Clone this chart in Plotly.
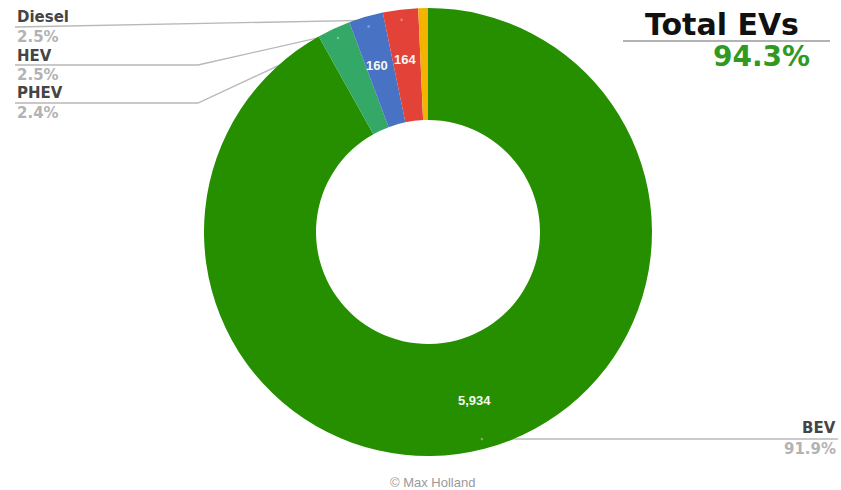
import math
import plotly.graph_objects as go

# Vehicle registrations by powertrain
categories = ["BEV", "PHEV", "HEV", "Diesel", "Petrol"]
values = [5934, 155, 160, 164, 45]
colors = ["#258f00", "#34a866", "#4872c4", "#e24237", "#f5b301"]

# Slices whose counts are printed inside the ring
count_labels = ["BEV", "HEV", "Diesel"]
# Callout labels on the left (top to bottom) and on the right
left_callouts = ["Diesel", "HEV", "PHEV"]
right_callouts = ["BEV"]
ev_categories = ["BEV", "PHEV"]

W, H = 841, 490
CX, CY, R = 428, 232, 224      # ring centre and outer radius in pixels
HOLE = 0.5

total = sum(values)
share = {c: v / total * 100 for c, v in zip(categories, values)}
ev_share = sum(share[c] for c in ev_categories)


def px(x):
    return x / W


def py(y):
    return 1 - y / H


# mid angle (clockwise from 12 o'clock) of each slice
mid_angle = {}
acc = 0.0
for c, v in zip(categories, values):
    mid_angle[c] = 2 * math.pi * (acc + v / 2) / total
    acc += v


def polar(c, r):
    a = mid_angle[c]
    return CX + r * math.sin(a), CY - r * math.cos(a)


fig = go.Figure(
    go.Pie(
        labels=categories,
        values=values,
        hole=HOLE,
        sort=False,
        direction="clockwise",
        rotation=0,
        marker=dict(colors=colors, line=dict(width=0)),
        textinfo="none",
        domain=dict(x=[px(CX - R), px(CX + R)], y=[py(CY + R), py(CY - R)]),
        showlegend=False,
    )
)

annotations = []
shapes = []

# counts inside the ring
for c in count_labels:
    x, y = polar(c, 0.82 * R)
    annotations.append(dict(
        x=px(x), y=py(y), xref="paper", yref="paper", showarrow=False,
        text=f"{values[categories.index(c)]:,}",
        font=dict(family="Liberation Sans", size=13, color="#f4f8f0", weight="bold"),
    ))

name_font = dict(family="DejaVu Sans", size=15, color="#454545", weight="bold")
pct_font = dict(family="DejaVu Sans", size=15, color="#b3b3b3", weight="bold")
line_style = dict(color="#b8b8b8", width=1.3)

# left callouts with leader lines
for i, c in enumerate(left_callouts):
    base = 17.5 + i * 38
    annotations.append(dict(x=px(15), y=py(base), xref="paper", yref="paper",
                            xanchor="left", yanchor="middle", showarrow=False,
                            text=c, font=name_font))
    annotations.append(dict(x=px(15), y=py(base + 19.5), xref="paper", yref="paper",
                            xanchor="left", yanchor="middle", showarrow=False,
                            text=f"{share[c]:.1f}%", font=pct_font))
    dx, dy = polar(c, 0.955 * R)
    ly = base + 9.5
    if i == 0:
        path = f"M {px(15)},{py(ly)} L {px(dx)},{py(dy)}"
    else:
        path = f"M {px(15)},{py(ly)} L {px(198)},{py(ly)} L {px(dx)},{py(dy)}"
    shapes.append(dict(type="path", path=path, xref="paper", yref="paper",
                       line=line_style, layer="below"))
    shapes.append(dict(type="circle", xref="paper", yref="paper",
                       x0=px(dx - 1.3), x1=px(dx + 1.3), y0=py(dy + 1.3), y1=py(dy - 1.3),
                       fillcolor="rgba(255,255,255,0.35)", line=dict(width=0)))

# right callout
for c in right_callouts:
    dx, dy = polar(c, 0.955 * R)
    annotations.append(dict(x=px(838), y=py(dy - 11), xref="paper", yref="paper",
                            xanchor="right", yanchor="middle", showarrow=False,
                            text=c, font=name_font))
    annotations.append(dict(x=px(838), y=py(dy + 10), xref="paper", yref="paper",
                            xanchor="right", yanchor="middle", showarrow=False,
                            text=f"{share[c]:.1f}%", font=pct_font))
    shapes.append(dict(type="line", xref="paper", yref="paper",
                       x0=px(dx), x1=px(838), y0=py(dy), y1=py(dy),
                       line=line_style, layer="below"))
    shapes.append(dict(type="circle", xref="paper", yref="paper",
                       x0=px(dx - 1.3), x1=px(dx + 1.3), y0=py(dy + 1.3), y1=py(dy - 1.3),
                       fillcolor="rgba(255,255,255,0.35)", line=dict(width=0)))

# headline: total EV share
annotations.append(dict(x=px(722), y=py(25), xref="paper", yref="paper",
                        xanchor="center", yanchor="middle", showarrow=False,
                        text="Total EVs",
                        font=dict(family="DejaVu Sans", size=30, color="#111111", weight="bold")))
shapes.append(dict(type="line", xref="paper", yref="paper",
                   x0=px(623), x1=px(830), y0=py(41), y1=py(41),
                   line=dict(color="#9a9a9a", width=1.5)))
annotations.append(dict(x=px(761), y=py(57), xref="paper", yref="paper",
                        xanchor="center", yanchor="middle", showarrow=False,
                        text=f"{ev_share:.1f}%",
                        font=dict(family="DejaVu Sans", size=28, color="#2f9a1f", weight="bold")))

# credit
annotations.append(dict(x=px(432), y=py(482), xref="paper", yref="paper",
                        xanchor="center", yanchor="middle", showarrow=False,
                        text="© Max Holland",
                        font=dict(family="Liberation Sans", size=13, color="#9a9a9a")))

fig.update_layout(
    width=W, height=H,
    margin=dict(l=0, r=0, t=0, b=0),
    paper_bgcolor="white", plot_bgcolor="white",
    annotations=annotations, shapes=shapes,
)

fig.write_html("out.html")
